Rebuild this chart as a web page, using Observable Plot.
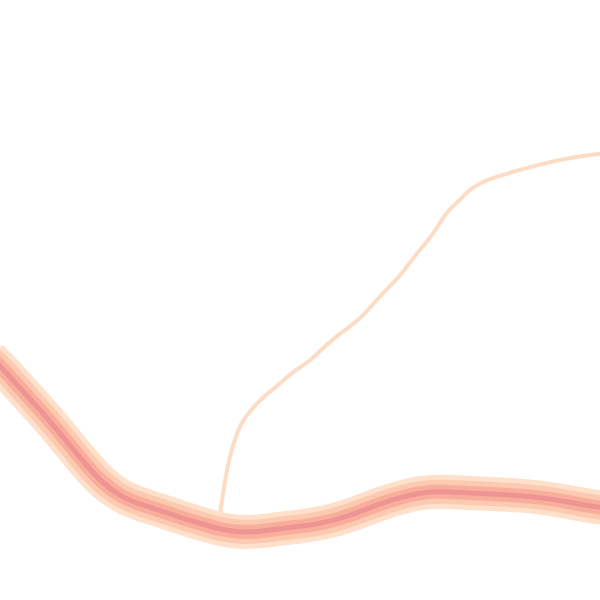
<!DOCTYPE html>
<html>
<head>
<meta charset="utf-8">
<script src="https://cdn.jsdelivr.net/npm/d3@7"></script>
<script src="https://cdn.jsdelivr.net/npm/@observablehq/plot@0.6"></script>
<style>
  html, body { margin: 0; padding: 0; background: white; }
  #chart svg { display: block; }
</style>
</head>
<body>
<div id="chart"></div>
<script>
// Main dense band: centre line (x, y)
const bandX = [-10, 0, 20, 40, 60, 80, 100, 120, 140, 160, 180, 200, 220, 240, 260, 280, 300, 320, 340, 360, 380, 400, 420, 440, 460, 480, 500, 520, 540, 560, 580, 600, 610];
const bandY = [356, 366, 388, 410, 433, 458, 481, 496, 504, 510, 517, 523, 529, 532, 531, 528, 526, 523, 518, 511, 503, 497, 492, 491, 492, 493, 494, 495, 497, 500, 504, 507, 509];

// Thin faint branch rising from the band
const branchX = [219, 220, 222, 225, 229, 235, 240, 246, 252, 262, 275, 288, 302, 311, 322, 333, 348, 360, 373, 387, 397, 402, 413, 425, 435, 445, 453, 462, 470, 483, 500, 517, 535, 560, 590, 605];
const branchY = [522, 510, 497, 477, 457, 437, 424, 415, 408, 397, 387, 375, 365, 359, 348, 338, 327, 318, 303, 288, 278, 272, 257, 243, 230, 213, 205, 197, 188, 181, 175, 170, 165, 159, 154, 153];

const band = bandX.map((x, i) => ({x, y: bandY[i]}));
const branch = branchX.map((x, i) => ({x, y: branchY[i]}));

const chart = Plot.plot({
  width: 600,
  height: 600,
  margin: 0,
  x: {domain: [0, 600], axis: null},
  y: {domain: [0, 600], range: [0, 600], axis: null},
  marks: [
    Plot.line(branch, {x: "x", y: "y", stroke: "#fddcc6", strokeWidth: 4, curve: "basis", clip: "frame"}),
    Plot.line(band, {x: "x", y: "y", stroke: "#fee0cb", strokeWidth: 34, curve: "basis", clip: "frame", strokeLinecap: "butt"}),
    Plot.line(band, {x: "x", y: "y", stroke: "#fcc9b1", strokeWidth: 24, curve: "basis", clip: "frame", strokeLinecap: "butt"}),
    Plot.line(band, {x: "x", y: "y", stroke: "#f8ae9b", strokeWidth: 14, curve: "basis", clip: "frame", strokeLinecap: "butt"}),
    Plot.line(band, {x: "x", y: "y", stroke: "#ee9492", strokeWidth: 5, curve: "basis", clip: "frame", strokeLinecap: "butt"})
  ]
});
document.getElementById("chart").appendChild(chart);
</script>
</body>
</html>
